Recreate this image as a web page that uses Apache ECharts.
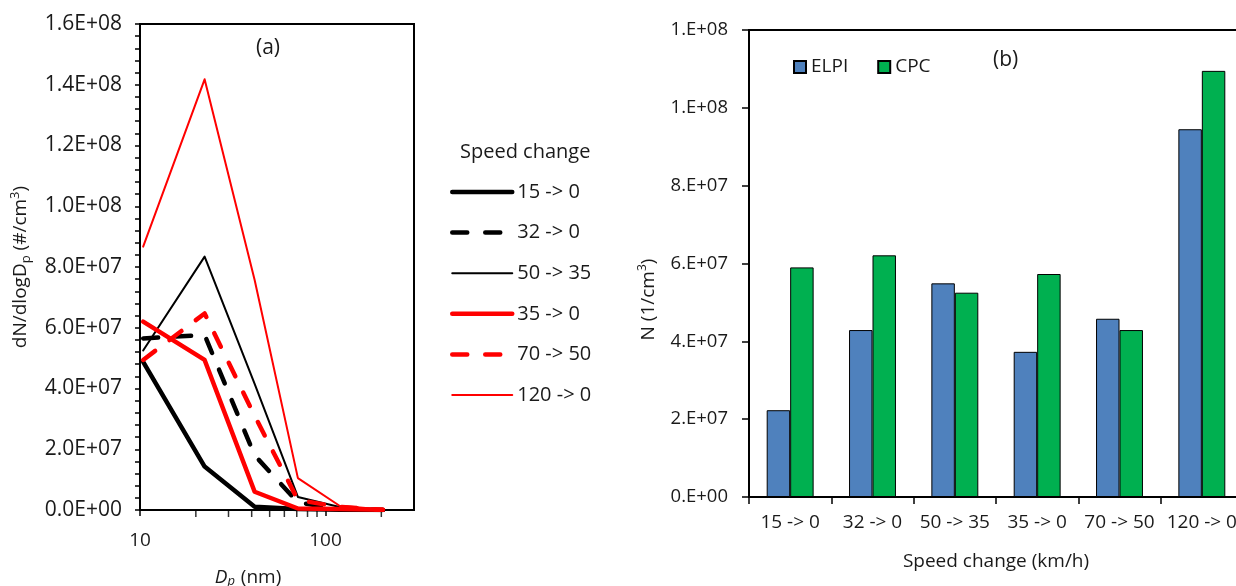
<!DOCTYPE html>
<html>
<head>
<meta charset="utf-8">
<script src="https://cdn.jsdelivr.net/npm/echarts@6/dist/echarts.min.js"></script>
<style>
html,body{margin:0;padding:0;background:#fff;}
#c{width:1236px;height:586px;}
</style>
</head>
<body>
<div id="c"></div>
<script>
// ---- Panel (a): size distributions ----
const dpNm = [10.4, 22.3, 41.5, 71, 119, 204];
const seriesNamesA = ['15 -> 0', '32 -> 0', '50 -> 35', '35 -> 0', '70 -> 50', '120 -> 0'];
const s15to0   = [4.88e7, 1.43e7, 1.1e6, 3e5, 1e5, 0];
const s32to0   = [5.65e7, 5.76e7, 1.8e7, 2.5e6, 3e5, 0];
const s50to35  = [5.25e7, 8.34e7, 4.15e7, 4.3e6, 1.0e6, 1e5];
const s35to0   = [6.2e7, 4.94e7, 6.0e6, 5e5, 3e5, 1e5];
const s70to50  = [4.94e7, 6.47e7, 3.1e7, 3.3e6, 1.0e6, 1e5];
const s120to0  = [8.67e7, 1.418e8, 7.57e7, 1.05e7, 1.4e6, 2e5];
const xTickLabelsA = [10, 100];
const xMinorTicksA = [20, 30, 40, 50, 60, 70, 80, 90, 200];

// ---- Panel (b): total number concentration ----
const categoriesB = ['15 -> 0', '32 -> 0', '50 -> 35', '35 -> 0', '70 -> 50', '120 -> 0'];
const elpi = [22.3e6, 42.9e6, 54.9e6, 37.3e6, 45.8e6, 94.5e6];
const cpc  = [59.0e6, 62.1e6, 52.5e6, 57.3e6, 42.9e6, 109.5e6];

function sci(v, d) {
  const s = Number(v).toExponential(d);
  const parts = s.split('e');
  const m = parts[0];
  const e = parseInt(parts[1], 10);
  const sign = e < 0 ? '-' : '+';
  return (d === 0 ? m + '.' : m) + 'E' + sign + String(Math.abs(e)).padStart(2, '0');
}

const FONT = 'Open Sans';
const TXT = '#1a1a1a';

function pairs(ys) { return dpNm.map((x, i) => [x, ys[i]]); }

const lineDefs = [
  { name: seriesNamesA[0], data: s15to0,  color: '#000', width: 4.5, type: 'solid' },
  { name: seriesNamesA[1], data: s32to0,  color: '#000', width: 4.5, type: [15, 18] },
  { name: seriesNamesA[2], data: s50to35, color: '#000', width: 2,   type: 'solid' },
  { name: seriesNamesA[3], data: s35to0,  color: '#ff0000', width: 4.5, type: 'solid' },
  { name: seriesNamesA[4], data: s70to50, color: '#ff0000', width: 4.5, type: [15, 18] },
  { name: seriesNamesA[5], data: s120to0, color: '#ff0000', width: 2,   type: 'solid' }
];

const lineSeries = lineDefs.map(d => ({
  type: 'line',
  name: d.name,
  xAxisIndex: 0, yAxisIndex: 0,
  data: pairs(d.data),
  symbol: 'none',
  showSymbol: false,
  color: d.color,
  lineStyle: { color: d.color, width: d.width, type: d.type, cap: 'round', join: 'round' },
  z: 3
}));

const legendDataA = lineDefs.map(d => ({
  name: d.name,
  itemStyle: { opacity: 0 },
  lineStyle: { color: d.color, width: d.width, type: d.type, cap: 'round' }
}));

const chart = echarts.init(document.getElementById('c'), null, { renderer: 'canvas' });

const option = {
  animation: false,
  backgroundColor: '#fff',
  textStyle: { fontFamily: FONT, color: TXT },
  grid: [
    { left: 140, top: 24, width: 274, height: 486, show: true, borderColor: '#000', borderWidth: 2,
      backgroundColor: 'transparent', outerBoundsMode: 'none', containLabel: false },
    { left: 749, top: 30, width: 494, height: 467, show: true, borderColor: '#000', borderWidth: 2,
      backgroundColor: 'transparent', outerBoundsMode: 'none', containLabel: false }
  ],
  xAxis: [
    {
      type: 'log', gridIndex: 0, logBase: 10, min: 10, max: 300,
      axisLine: { show: true, lineStyle: { color: '#000', width: 2 } },
      axisTick: { show: true, inside: false, length: 6, lineStyle: { color: '#000', width: 1.5 } },
      axisLabel: {
        fontSize: 19, color: TXT, fontFamily: FONT, margin: 21,
        showMinLabel: true, showMaxLabel: false,
        formatter: v => (xTickLabelsA.some(t => Math.abs(t - v) < 1e-6) ? String(Math.round(v)) : '')
      },
      splitLine: { show: false },
      name: '{it|D}{its|p} (nm)',
      nameLocation: 'middle',
      nameGap: 57,
      nameTextStyle: {
        fontSize: 19, color: TXT, fontFamily: FONT, padding: [0, 58, 0, 0],
        rich: {
          it: { fontSize: 19, fontStyle: 'italic', color: TXT, fontFamily: FONT },
          its: { fontSize: 13, fontStyle: 'italic', color: TXT, fontFamily: FONT, verticalAlign: 'bottom', padding: [8, 1, 0, 0] }
        }
      }
    },
    {
      type: 'category', gridIndex: 1, data: categoriesB,
      axisLine: { show: true, lineStyle: { color: '#000', width: 2 } },
      axisTick: { show: true, inside: false, length: 7, alignWithLabel: false, lineStyle: { color: '#000', width: 1.5 } },
      axisLabel: { fontSize: 19, color: TXT, fontFamily: FONT, margin: 16, interval: 0 },
      splitLine: { show: false },
      name: 'Speed change (km/h)',
      nameLocation: 'middle',
      nameGap: 55,
      nameTextStyle: { fontSize: 19, color: TXT, fontFamily: FONT }
    }
  ],
  yAxis: [
    {
      type: 'value', gridIndex: 0, min: 0, max: 1.6e8, interval: 2e7,
      axisLine: { show: true, lineStyle: { color: '#000', width: 2 } },
      axisTick: { show: true, inside: false, length: 5, lineStyle: { color: '#000', width: 1.5 } },
      minorTick: { show: true, splitNumber: 5, length: 5, lineStyle: { color: '#000', width: 1.5 } },
      axisLabel: { fontSize: 21, color: TXT, fontFamily: FONT, margin: 18, formatter: v => sci(v, 1) },
      splitLine: { show: false },
      minorSplitLine: { show: false },
      name: 'dN/dlogD{sub|p} (#/cm{sup|3})',
      nameLocation: 'middle',
      nameRotate: 90,
      nameGap: 107,
      nameTextStyle: {
        fontSize: 19, color: TXT, fontFamily: FONT, lineHeight: 24,
        rich: {
          sub: { fontSize: 13, color: TXT, fontFamily: FONT, verticalAlign: 'bottom', padding: [8, 0, 0, 0] },
          sup: { fontSize: 13, color: TXT, fontFamily: FONT, verticalAlign: 'top', padding: [0, 0, 6, 0] }
        }
      }
    },
    {
      type: 'value', gridIndex: 1, min: 0, max: 1.2e8, interval: 2e7,
      axisLine: { show: true, lineStyle: { color: '#000', width: 2 } },
      axisTick: { show: true, inside: false, length: 7, lineStyle: { color: '#000', width: 1.5 } },
      axisLabel: { fontSize: 18.5, color: TXT, fontFamily: FONT, margin: 21, formatter: v => sci(v, 0) },
      splitLine: { show: false },
      name: 'N (1/cm{sup|3})',
      nameLocation: 'middle',
      nameRotate: 90,
      nameGap: 88,
      nameTextStyle: {
        fontSize: 19, color: TXT, fontFamily: FONT, lineHeight: 24, padding: [0, 72, 0, 0],
        rich: {
          sup: { fontSize: 12, color: TXT, fontFamily: FONT, verticalAlign: 'top', padding: [0, 0, 6, 0] }
        }
      }
    }
  ],
  legend: [
    {
      data: legendDataA,
      orient: 'vertical',
      left: 450, top: 180,
      itemWidth: 60, itemHeight: 14, itemGap: 16.6,
      textStyle: { fontSize: 20, color: TXT, fontFamily: FONT, lineHeight: 24 },
      selectedMode: false,
      backgroundColor: 'transparent', borderWidth: 0, padding: 0
    },
    {
      data: ['ELPI', 'CPC'],
      orient: 'horizontal',
      left: 793, top: 56,
      icon: 'rect',
      itemWidth: 12, itemHeight: 12, itemGap: 29,
      textStyle: { fontSize: 19, color: TXT, fontFamily: FONT, lineHeight: 22 },
      selectedMode: false,
      backgroundColor: 'transparent', borderWidth: 0, padding: 0
    }
  ],
  graphic: [
    { type: 'text', left: 256, top: 38, style: { text: '(a)', font: '21px "Open Sans"', fill: TXT } },
    { type: 'text', left: 993, top: 50, style: { text: '(b)', font: '21px "Open Sans"', fill: TXT } },
    { type: 'text', left: 460, top: 142, style: { text: 'Speed change', font: '20px "Open Sans"', fill: TXT } }
  ],
  series: lineSeries.concat([
    {
      type: 'scatter', name: 'minorTicks', xAxisIndex: 0, yAxisIndex: 0,
      data: xMinorTicksA.map(x => [x, 0]),
      symbol: 'rect', symbolSize: [1.5, 6], symbolOffset: [0, 4],
      itemStyle: { color: '#000' }, clip: false, silent: true, z: 1,
      emphasis: { disabled: true }
    },
    {
      type: 'bar', name: 'ELPI', xAxisIndex: 1, yAxisIndex: 1, data: elpi,
      barGap: '0%', barCategoryGap: '43%',
      itemStyle: { color: '#4f81bd', borderColor: '#000', borderWidth: 1 }
    },
    {
      type: 'bar', name: 'CPC', xAxisIndex: 1, yAxisIndex: 1, data: cpc,
      barGap: '0%', barCategoryGap: '43%',
      itemStyle: { color: '#00b050', borderColor: '#000', borderWidth: 1 }
    }
  ])
};

chart.setOption(option);
</script>
</body>
</html>
